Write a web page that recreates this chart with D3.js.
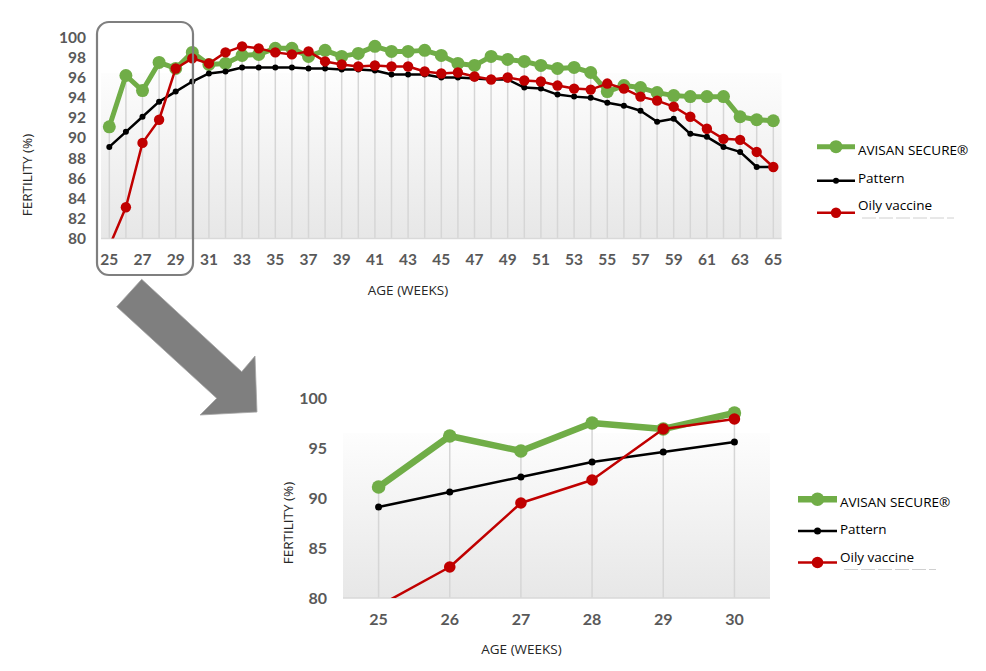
<!DOCTYPE html>
<html>
<head>
<meta charset="utf-8">
<script src="https://cdn.jsdelivr.net/npm/d3@7"></script>
<style>
  body { margin: 0; background: #fff; }
  svg { display: block; }
</style>
</head>
<body>
<div id="vis"></div>
<script>
// Chart data
const weeks = d3.range(25, 66);
const avisan = [91.1, 96.2, 94.7, 97.5, 96.9, 98.5, 97.3, 97.4, 98.2, 98.3,
    98.9, 98.9, 98.1, 98.7, 98.1, 98.4, 99.1, 98.6, 98.6, 98.7,
    98.2, 97.4, 97.2, 98.1, 97.8, 97.6, 97.2, 96.9, 97.0, 96.5,
    94.6, 95.2, 95.0, 94.5, 94.2, 94.1, 94.1, 94.1, 92.1, 91.8, 91.7];
const pattern = [89.1, 90.6, 92.1, 93.6, 94.6, 95.6, 96.4, 96.6, 97.0, 97.0,
    97.0, 97.0, 96.9, 96.9, 96.8, 96.8, 96.7, 96.3, 96.3, 96.3,
    96.0, 96.0, 95.9, 95.8, 95.8, 95.0, 94.9, 94.3, 94.1, 94.0,
    93.5, 93.2, 92.7, 91.6, 91.9, 90.4, 90.1, 89.1, 88.6, 87.1, 87.1];
const oily = [79.2, 83.1, 89.5, 91.8, 96.9, 97.9, 97.4, 98.5, 99.1, 98.9,
    98.5, 98.3, 98.6, 97.6, 97.3, 97.1, 97.2, 97.1, 97.1, 96.6,
    96.4, 96.5, 96.1, 95.8, 96.0, 95.7, 95.6, 95.2, 94.9, 94.8,
    95.4, 94.9, 94.1, 93.7, 93.1, 92.1, 90.9, 89.9, 89.8, 88.6, 87.1];
const seriesNames = ['AVISAN SECURE®', 'Pattern', 'Oily vaccine'];
const topYTicks = [80, 82, 84, 86, 88, 90, 92, 94, 96, 98, 100];
const topXTicks = weeks.filter(w => w % 2 === 1);
const zoomWeeks = [25, 26, 27, 28, 29, 30];
const zoomYTicks = [80, 85, 90, 95, 100];

const width = 986;
const height = 671;
const green = '#70ad47', red = '#c00000', black = '#000000';
const labelGrey = '#595959';

let svg = d3.select('#vis')
    .append('svg')
    .attr('width', width)
    .attr('height', height);

let defs = svg.append('defs');
let grad = defs.append('linearGradient')
    .attr('id', 'plotFill')
    .attr('x1', 0).attr('y1', 0).attr('x2', 0).attr('y2', 1);
grad.append('stop').attr('offset', '0%').attr('stop-color', '#fdfdfd');
grad.append('stop').attr('offset', '100%').attr('stop-color', '#e7e7e7');

// draw one line chart (used for the full chart and the zoomed one)
function drawChart(o) {
    let g = svg.append('g');
    let idx = o.weeks.map(w => weeks.indexOf(w));
    let rows = idx.map(i => ({
        week: weeks[i],
        vals: [avisan[i], pattern[i], oily[i]]
    }));

    let x = d3.scalePoint()
        .domain(o.weeks)
        .range([o.left, o.right])
        .padding(0.5);
    let y = d3.scaleLinear()
        .domain([80, 100])
        .range([o.bottom, o.top]);

    // plot background
    g.append('rect')
        .attr('x', o.left)
        .attr('y', o.bgTop)
        .attr('width', o.right - o.left)
        .attr('height', o.bottom - o.bgTop)
        .attr('fill', 'url(#plotFill)');

    // drop lines
    g.selectAll('.drop')
        .data(rows)
        .join('line')
        .attr('x1', d => x(d.week))
        .attr('x2', d => x(d.week))
        .attr('y1', d => y(d3.max(d.vals)))
        .attr('y2', o.bottom)
        .attr('stroke', '#d6d6d6')
        .attr('stroke-width', 1.5);

    // axis line
    g.append('line')
        .attr('x1', o.left).attr('x2', o.right)
        .attr('y1', o.bottom).attr('y2', o.bottom)
        .attr('stroke', '#d9d9d9')
        .attr('stroke-width', 1.5);

    // y labels
    g.selectAll('.ylab')
        .data(o.yTicks)
        .join('text')
        .attr('x', o.yLabelX)
        .attr('y', d => y(d) + o.fontSize * 0.36)
        .attr('text-anchor', 'end')
        .attr('font-family', 'Lato, sans-serif')
        .attr('font-weight', 'bold')
        .attr('font-size', o.fontSize)
        .attr('fill', labelGrey)
        .text(d => d);

    // x labels
    g.selectAll('.xlab')
        .data(o.xTicks)
        .join('text')
        .attr('x', d => x(d))
        .attr('y', o.xLabelY)
        .attr('text-anchor', 'middle')
        .attr('font-family', 'Lato, sans-serif')
        .attr('font-weight', 'bold')
        .attr('font-size', o.fontSize)
        .attr('fill', labelGrey)
        .text(d => d);

    // axis titles
    g.append('text')
        .attr('transform', `translate(${o.yTitleX},${o.yTitleY}) rotate(-90)`)
        .attr('text-anchor', 'middle')
        .attr('font-family', 'Open Sans, sans-serif')
        .attr('font-size', 13.5)
        .attr('fill', '#262626')
        .text('FERTILITY (%)');
    g.append('text')
        .attr('x', o.xTitleX)
        .attr('y', o.xTitleY)
        .attr('text-anchor', 'middle')
        .attr('font-family', 'Open Sans, sans-serif')
        .attr('font-size', 13.5)
        .attr('fill', '#262626')
        .text('AGE (WEEKS)');

    // clip lines to the plot
    defs.append('clipPath')
        .attr('id', o.id + 'clip')
        .append('rect')
        .attr('x', o.left - 20)
        .attr('y', 0)
        .attr('width', o.right - o.left + 40)
        .attr('height', o.bottom);

    let lines = g.append('g').attr('clip-path', `url(#${o.id}clip)`);
    let series = [
        {vals: rows.map(d => d.vals[0]), color: green, w: o.greenW, r: o.greenR},
        {vals: rows.map(d => d.vals[1]), color: black, w: o.blackW, r: o.blackR},
        {vals: rows.map(d => d.vals[2]), color: red, w: o.redW, r: o.redR}
    ];
    // draw order: green, black, red on top
    series.forEach(s => {
        let line = d3.line()
            .x((d, i) => x(o.weeks[i]))
            .y(d => y(d));
        lines.append('path')
            .datum(s.vals)
            .attr('d', line)
            .attr('fill', 'none')
            .attr('stroke', s.color)
            .attr('stroke-width', s.w)
            .attr('stroke-linejoin', 'round');
        lines.selectAll(null)
            .data(s.vals)
            .join('circle')
            .attr('cx', (d, i) => x(o.weeks[i]))
            .attr('cy', d => y(d))
            .attr('r', s.r)
            .attr('fill', s.color);
    });

    // legend
    let leg = g.append('g');
    series.forEach((s, i) => {
        let ly = o.legend.lineY[i];
        leg.append('line')
            .attr('x1', o.legend.x1).attr('x2', o.legend.x2)
            .attr('y1', ly).attr('y2', ly)
            .attr('stroke', s.color)
            .attr('stroke-width', s.w);
        leg.append('circle')
            .attr('cx', (o.legend.x1 + o.legend.x2) / 2)
            .attr('cy', ly)
            .attr('r', s.r)
            .attr('fill', s.color);
        leg.append('text')
            .attr('x', o.legend.textX)
            .attr('y', o.legend.textY[i])
            .attr('font-family', 'Open Sans, sans-serif')
            .attr('font-size', 13.5)
            .attr('fill', '#000')
            .text(seriesNames[i]);
    });
    // faint remnant under the last legend entry
    leg.append('line')
        .attr('x1', o.legend.textX + 4).attr('x2', o.legend.textX + 96)
        .attr('y1', o.legend.textY[2] + 8).attr('y2', o.legend.textY[2] + 8)
        .attr('stroke', '#d0d0d0')
        .attr('stroke-width', 1)
        .attr('stroke-dasharray', '14,3');
}

// full chart
drawChart({
    id: 'full',
    weeks: weeks,
    xTicks: topXTicks,
    yTicks: topYTicks,
    left: 101, right: 781.6, top: 37.3, bottom: 238.4, bgTop: 73,
    fontSize: 15.5,
    yLabelX: 86, xLabelY: 265,
    yTitleX: 32, yTitleY: 175, xTitleX: 408, xTitleY: 295,
    greenW: 5, greenR: 6.5, blackW: 2.5, blackR: 3, redW: 2.5, redR: 5.2,
    legend: {x1: 817, x2: 855, textX: 858, lineY: [146.7, 180.7, 212.7], textY: [155, 183, 210]}
});

// zoomed chart (weeks 25-30)
drawChart({
    id: 'zoom',
    weeks: zoomWeeks,
    xTicks: zoomWeeks,
    yTicks: zoomYTicks,
    left: 343, right: 770, top: 398, bottom: 598, bgTop: 433,
    fontSize: 16,
    yLabelX: 327, xLabelY: 625,
    yTitleX: 293, yTitleY: 523, xTitleX: 521.5, xTitleY: 654,
    greenW: 6.5, greenR: 6.8, blackW: 2.5, blackR: 3.5, redW: 2.5, redR: 5.8,
    legend: {x1: 798, x2: 837, textX: 840, lineY: [499.3, 531, 562.5], textY: [506.5, 534, 561.5]}
});

// selection frame around weeks 25-29 and the arrow
svg.append('rect')
    .attr('x', 97).attr('y', 22)
    .attr('width', 96).attr('height', 253)
    .attr('rx', 12)
    .attr('fill', 'none')
    .attr('stroke', '#7f7f7f')
    .attr('stroke-width', 2.2);

svg.append('polygon')
    .attr('points', [[141.7, 279.3], [241.7, 371.7], [255, 356], [257, 412],
        [200, 415], [216.7, 398.3], [116.7, 306.7]].join(' '))
    .attr('fill', '#7f7f7f')
    .attr('stroke', '#a6a6a6')
    .attr('stroke-width', 0.8);
</script>
</body>
</html>
